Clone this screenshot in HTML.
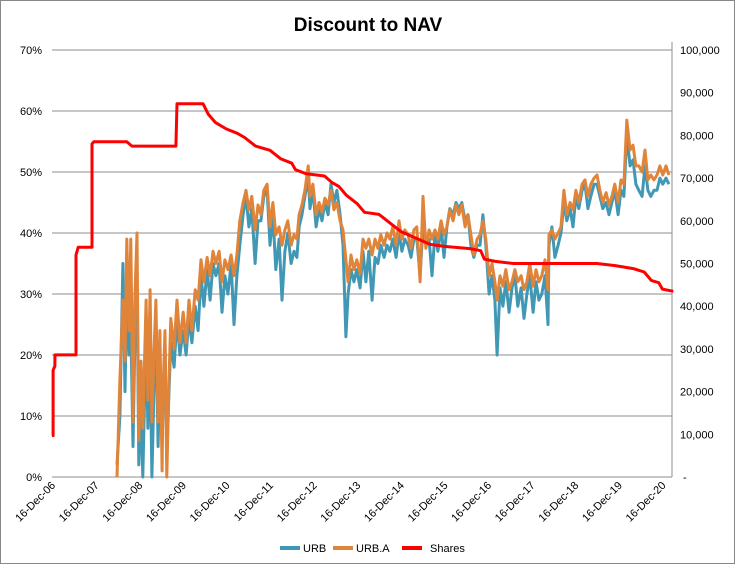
<!DOCTYPE html>
<html><head><meta charset="utf-8"><style>
body{margin:0;background:#fff;}
svg{display:block;font-family:"Liberation Sans",Arial,sans-serif;}
</style></head><body>
<svg id="chart" width="736" height="571">
<rect x="0.5" y="0.5" width="734" height="563" fill="#fff" stroke="#888"/>
<text x="368" y="31" text-anchor="middle" font-size="19" font-weight="bold">Discount to NAV</text>
<g id="grid"></g><g id="axes"></g><g id="series"></g>
<g font-size="11">
<g><line x1="280" y1="548" x2="300" y2="548" stroke="#4198b4" stroke-width="4"/><text x="303" y="552">URB</text></g>
<g><line x1="333" y1="548" x2="353" y2="548" stroke="#e0843a" stroke-width="4"/><text x="356" y="552">URB.A</text></g>
<g><line x1="402" y1="548" x2="422" y2="548" stroke="#ff0000" stroke-width="4"/><text x="430" y="552">Shares</text></g>
</g>
</svg>
<script>
const xTickLabels=["16-Dec-06","16-Dec-07","16-Dec-08","16-Dec-09","16-Dec-10","16-Dec-11","16-Dec-12","16-Dec-13","16-Dec-14","16-Dec-15","16-Dec-16","16-Dec-17","16-Dec-18","16-Dec-19","16-Dec-20"];
const leftTicks=[0,10,20,30,40,50,60,70];
const rightTicks=[0,10,20,30,40,50,60,70,80,90,100];
const months=[17.9,18.7,19.5,20.1,20.6,21.2,21.7,22.3,22.8,23.4,
23.9,24.5,25.0,25.9,26.4,27.0,27.5,28.1,28.6,29.2,
29.7,30.3,30.5,31.1,31.6,32.2,32.7,33.6,34.4,35.2,
36.1,36.9,37.7,38.5,39.4,40.2,41.0,41.8,42.7,43.5,
44.3,45.1,46.0,46.8,47.6,48.4,49.3,50.1,50.9,51.7,
52.6,53.4,54.2,55.0,55.9,56.7,57.5,58.3,59.2,60.0,
60.8,61.6,62.5,63.3,64.1,64.9,65.8,66.6,67.4,68.0,
68.8,69.6,70.5,71.0,71.8,72.7,73.5,74.3,75.1,76.0,
76.8,77.6,78.4,79.3,80.1,80.9,81.5,82.3,83.1,83.9,
84.8,85.6,86.4,87.2,88.1,88.9,89.7,90.5,91.4,92.2,
93.0,93.8,94.7,95.5,96.3,97.1,98.0,98.8,99.6,100.4,
101.3,102.1,102.9,103.8,104.6,105.4,106.2,107.1,107.9,108.7,
109.5,110.4,111.2,112.0,112.8,113.7,114.5,115.3,116.1,117.0,
117.8,118.6,119.4,120.3,121.1,121.9,122.5,123.3,124.1,124.9,
125.8,126.6,127.4,128.2,129.1,129.9,130.7,131.5,132.4,133.2,
134.0,134.8,135.7,136.5,136.8,137.6,138.4,139.3,140.1,140.9,
141.7,142.6,143.4,144.2,145.0,145.9,146.7,147.5,148.3,149.2,
150.0,150.8,151.6,152.5,153.3,154.1,154.9,155.8,156.6,157.4,
158.2,159.1,159.9,160.7,161.5,162.4,163.2,164.0,164.8,165.7,
166.5,167.3,168.1,169.0,169.8];
const urbA=[0,16,29,19,39,24,39,9,29,40,
6,19,8,29,12.6,30.7,9,21,29,9,
24,1,12.6,24,0,16,26,21,29,22,
27,22,29,24,30.7,29,35.6,32,36,33,
37,35,37,32,35.6,34,36.4,33,36.4,42,
45,47,43.8,46,40.5,44.6,43,47,48,41,
45,39.7,41,38,40.5,42,38,39.7,39,43,
44.6,47,51,46,48,43,45,43.4,45.7,44.6,
47,43.8,45,42,40.5,35.6,32,36.4,34,35.6,
33.4,39,37.5,39,36.4,39,37.5,39.7,38,40,
39,41,38,42,39,40.5,39.7,37.5,40.5,41,
32,46,37.5,40.5,39,40.5,39,42,39.7,41,
43.8,42,44.6,43,44.6,41,43,39.7,36.4,39,
39.7,42,39,33,35,32,29,33,31.3,34,
30.7,32,34,32,33,30.7,32,35,31.3,34,
32,33,35.6,30.7,39.7,40.5,39,40,41,47,
43,45,43.8,47,45,48,48.7,46,48,49,
49.5,47,45,46.6,44.6,46,48,45,48.7,48,
58.5,53.6,54.4,51,51,50,53.6,48.7,49.5,48.7,
49.5,51,49.5,51,49.5];
const urb=[2,10,35,14,30,20,25,5,22,33,
2,12,0,24,8,20,0,15,25,5,
20,5,10,22,3,14,22,18,26,20,
24,20,26,22,28,24,33,28,34,29,
35,33,35,27,33,30,35,25,33,38,
43,46,41,44,35,42,42,46,47,38,
43,34,39,29,37,40,35,37,36,41,
43,46,49,44,47,41,44,42,45,43,
48,45,47,43,38,23,30,34,32,34,
31,37,32,37,29,36,35,38,36,38,
37,39,36,40,37,39,38,36,39,39,
33,41,38,39,33,40,37,41,36,41,
44,43,45,44,45,42,43,38,36,38,
38,43,38,30,33,29,20,31,28,32,
27,31,33,28,31,26,30,33,27,32,
29,30,33,25,38,41,36,38,40,45,
42,44,41,46,44,47,48,44,46,48,
48,46,44,45,43,45,47,43,47,46,
56,51,52,48,47,46,51,47,46,47,
47,49,48,49,48];
const shareMonths=[0,0.3,0.3,0.8,0.8,6.6,6.6,7.2,11.0,11.0,11.5,20.6,22,34.1,34.4,41.6,43,45,48,51,53,56,60,63,66,67,70,75,77,79,81,84,86,90,93,96,100,104,108,115,118,119,122,127,150,155,160,163,165,167,168,171];
const shareVals=[9.7,9.7,25,26,28.6,28.6,52,53.8,53.8,78,78.5,78.5,77.5,77.5,87.4,87.4,85,83,81.5,80.5,79.5,77.5,76.5,74.5,73.5,72,71,70.5,69,68,66,64,62,61.5,59.5,57.5,56,54.5,54,53.5,53,51,50.5,50,50,49.5,48.8,48,46,45.5,44,43.5];

const X0=52,X1=672,YT=50,YB=477;
const xMonth=m=>X0+m*43.6/12;
const yL=v=>YB-(v/70)*(YB-YT);
const yR=v=>YB-(v/100)*(YB-YT);
const NS="http://www.w3.org/2000/svg";
function mk(tag,attrs,parent){const e=document.createElementNS(NS,tag);for(const k in attrs)e.setAttribute(k,attrs[k]);parent.appendChild(e);return e;}
const grid=document.getElementById('grid'),axes=document.getElementById('axes'),series=document.getElementById('series');
leftTicks.forEach(v=>{
  const l=mk('line',{x1:X0,x2:X1,y1:yL(v),y2:yL(v),stroke:'#8c8c8c','stroke-width':1},grid);
  
  
  const t=mk('text',{x:42,y:yL(v)+4,'text-anchor':'end','font-size':11},axes);
  t.textContent=v+'%';
  
  
});
rightTicks.forEach(v=>{
  const t=mk('text',{x:v===0?683:680,y:yR(v)+4,'font-size':11},axes);
  t.textContent=v===0?'-':(v+',000');
  
  
});
const ra=mk('line',{x1:X1,x2:X1,y1:YT-8,y2:YB,stroke:'#8c8c8c'},axes);


xTickLabels.forEach((s,i)=>{
  const x=xMonth(i*12);
  const t=mk('text',{x:x+4,y:486,'text-anchor':'end','font-size':11,transform:`rotate(-45 ${x+4} 486)`},axes);
  t.textContent=s;
  
  
});
function path(xs,ys,yf,color,name){
  let d='';xs.forEach((m,i)=>{d+=(i?'L':'M')+xMonth(m).toFixed(1)+','+yf(ys[i]).toFixed(1);});
  const p=mk('path',{d:d,fill:'none',stroke:color,'stroke-width':3,'stroke-linejoin':'round'},series);
  
  
}
path(months,urb,yL,'#4198b4','urb-line');
path(months,urbA,yL,'#e0843a','urb-a-line');
path(shareMonths,shareVals,yR,'#ff0000','shares-line');
</script>
</body></html>
